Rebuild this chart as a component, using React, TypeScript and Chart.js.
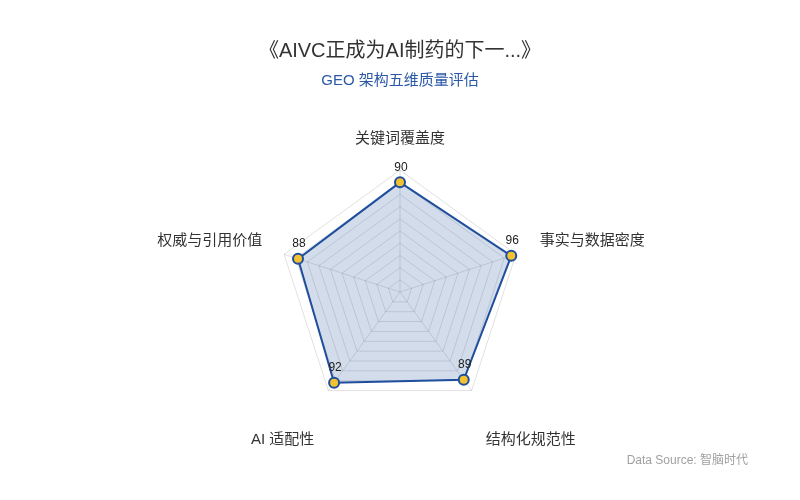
import { useEffect, useRef } from "react"
import { Chart, registerables, type ChartConfiguration, type Plugin } from "chart.js"

Chart.register(...registerables)

const dimensions = ["关键词覆盖度", "事实与数据密度", "结构化规范性", "AI 适配性", "权威与引用价值"]
const scores = [90, 96, 89, 92, 88]
const scaleMin = 0
const scaleMax = 100
const scaleStep = 10

const titleText = "《AIVC正成为AI制药的下一...》"
const subtitleText = "GEO 架构五维质量评估"
const sourceText = "Data Source: 智脑时代"

const FONT = "'Liberation Sans', 'Noto Sans CJK SC', sans-serif"

// value labels above each point
const valueLabels: Plugin<"radar"> = {
  id: "valueLabels",
  afterDatasetsDraw(chart) {
    const { ctx } = chart
    const meta = chart.getDatasetMeta(0)
    ctx.save()
    ctx.font = `12px ${FONT}`
    ctx.fillStyle = "#222"
    ctx.textAlign = "center"
    ctx.textBaseline = "bottom"
    meta.data.forEach((pt, i) => {
      ctx.fillText(String(chart.data.datasets[0].data[i]), pt.x + 1, pt.y - 9)
    })
    ctx.restore()
  },
}

// source note, bottom right
const sourceNote: Plugin<"radar"> = {
  id: "sourceNote",
  afterDraw(chart) {
    const { ctx } = chart
    ctx.save()
    ctx.font = `12px ${FONT}`
    ctx.fillStyle = "#a0a0a0"
    ctx.textAlign = "right"
    ctx.textBaseline = "middle"
    ctx.fillText(sourceText, chart.width - 52, 461)
    ctx.restore()
  },
}

export default function App() {
  const chartRef = useRef<HTMLCanvasElement>(null)
  const chartInstance = useRef<Chart | null>(null)

  useEffect(() => {
    if (!chartRef.current) return
    const ctx = chartRef.current.getContext("2d")
    if (!ctx) return

    if (chartInstance.current) {
      chartInstance.current.destroy()
    }

    const labelPadding = [22, 25, 24, 24, 23]

    const config: ChartConfiguration<"radar"> = {
      type: "radar",
      data: {
        labels: dimensions,
        datasets: [
          {
            data: scores,
            borderColor: "#1f4e9c",
            borderWidth: 2,
            backgroundColor: "rgba(31, 78, 156, 0.2)",
            fill: true,
            pointRadius: 5,
            pointHoverRadius: 5,
            pointBorderWidth: 2,
            pointBorderColor: "#1f4e9c",
            pointBackgroundColor: "#f2c230",
          },
        ],
      },
      options: {
        responsive: true,
        maintainAspectRatio: false,
        animation: false,
        layout: { padding: { top: 0, bottom: 21, left: 0, right: 0 } },
        scales: {
          r: {
            min: scaleMin,
            max: scaleMax,
            ticks: { display: false, stepSize: scaleStep },
            grid: { color: "rgba(0, 0, 0, 0.12)" },
            angleLines: { color: "rgba(0, 0, 0, 0.12)" },
            pointLabels: {
              color: "#333",
              padding: (c) => labelPadding[c.index],
              // bottom labels sit lower, so give them a tall line box
              font: (c) => ({
                family: FONT,
                size: 15,
                lineHeight: c.index === 2 || c.index === 3 ? "60px" : c.index === 0 ? 1.2 : "12px",
              }),
            },
          },
        },
        plugins: {
          legend: { display: false },
          tooltip: { enabled: false },
          title: {
            display: true,
            text: titleText,
            color: "#333",
            font: { family: FONT, size: 20, weight: "normal" },
            padding: { top: 39, bottom: 9 },
          },
          subtitle: {
            display: true,
            text: subtitleText,
            color: "#2a58a6",
            font: { family: FONT, size: 15 },
            padding: { top: 0, bottom: 33 },
          },
        },
      },
      plugins: [valueLabels, sourceNote],
    }

    chartInstance.current = new Chart(ctx, config)

    return () => {
      if (chartInstance.current) {
        chartInstance.current.destroy()
        chartInstance.current = null
      }
    }
  }, [])

  return (
    <div style={{ position: "fixed", left: 0, top: 0, width: 800, height: 500, background: "#fff" }}>
      <canvas ref={chartRef} />
    </div>
  )
}
